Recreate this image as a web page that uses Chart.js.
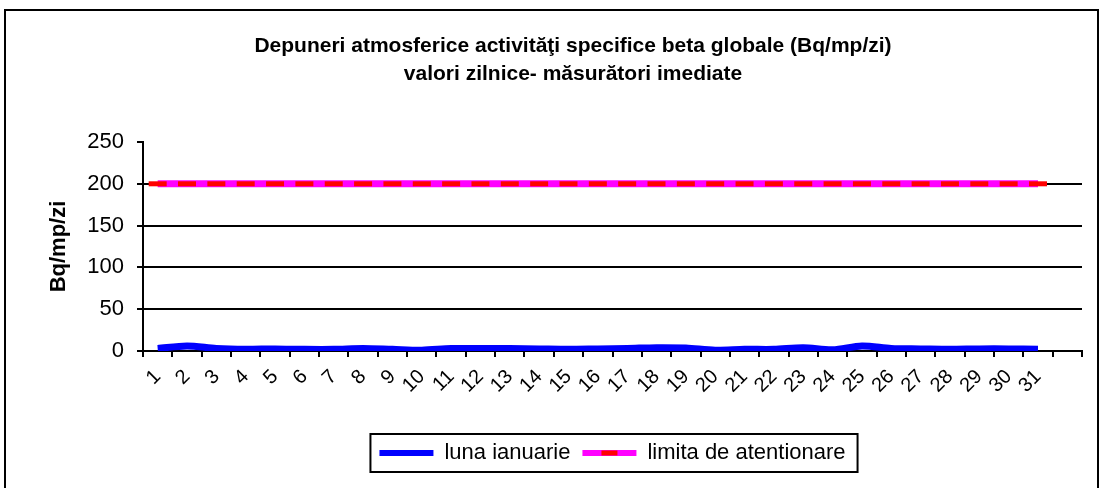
<!DOCTYPE html>
<html>
<head>
<meta charset="utf-8">
<script src="https://cdn.jsdelivr.net/npm/chart.js@4.4.0/dist/chart.umd.min.js"></script>
<style>
    html, body { margin: 0; padding: 0; background: #fff; overflow: hidden; }
    #frame { position: absolute; left: 4px; top: 9px; width: 1091px; height: 500px; border: 2px solid #000; }
    #wrap { position: absolute; left: 0; top: 0; width: 1103px; height: 488px; }
</style>
</head>
<body>
<div id="frame"></div>
<div id="wrap"><canvas id="betaChart" width="1103" height="488"></canvas></div>
<script>
// zilele lunii (ultima categorie goala, ca in original)
var days = ['1', '2', '3', '4', '5', '6', '7', '8', '9', '10', '11', '12', '13', '14', '15', '16',
            '17', '18', '19', '20', '21', '22', '23', '24', '25', '26', '27', '28', '29', '30', '31', ''];
var lunaIanuarie = [3, 6, 3, 2, 2.5, 2, 2, 3, 2, 1, 3, 3, 3, 2.5, 2, 2.5,
                    3, 4, 3.5, 1, 2, 2, 4, 1.5, 6, 3, 2.5, 2, 2.5, 2.5, 2, null];
var limitaAtentionare = [200, 200, 200, 200, 200, 200, 200, 200, 200, 200, 200, 200, 200, 200, 200, 200,
                         200, 200, 200, 200, 200, 200, 200, 200, 200, 200, 200, 200, 200, 200, 200, null];
var yTicks = [0, 50, 100, 150, 200, 250];

var FONT = "'Liberation Sans', Arial, sans-serif";

// chenar legenda + liniuta rosie din mostra limitei
var legendFrame = {
    id: 'legendFrame',
    afterDraw: function (chart) {
        var hb = chart.legend.legendHitBoxes;
        if (!hb || !hb.length) return;
        var ctx = chart.ctx;
        var first = hb[0], last = hb[hb.length - 1];
        var left = first.left - 9, right = last.left + last.width + 12;
        var top = first.top - 8, bottom = first.top + first.height + 8;
        ctx.save();
        ctx.strokeStyle = '#000';
        ctx.lineWidth = 2;
        ctx.strokeRect(left, top, right - left, bottom - top);
        // liniuta rosie in mijlocul mostrei magenta
        var bw = chart.options.plugins.legend.labels.boxWidth;
        var cx = last.left + bw / 2;
        var cy = last.top + last.height / 2;
        ctx.fillStyle = '#FF0000';
        ctx.fillRect(cx - 8, cy - 2.5, 16, 5);
        ctx.restore();
    }
};

// titlul este centrat putin la stanga de zona graficului
var titleShift = {
    id: 'titleShift',
    afterLayout: function (chart) {
        var t = chart.titleBlock;
        if (t) {
            t.left = 64;
            t.width = t.right - t.left;
        }
    }
};

var ctx = document.getElementById('betaChart').getContext('2d');
var betaChart = new Chart(ctx, {
    type: 'line',
    data: {
        labels: days,
        datasets: [{
            label: 'luna ianuarie',
            data: lunaIanuarie,
            borderColor: '#0000FF',
            backgroundColor: '#0000FF',
            borderWidth: 7,
            borderCapStyle: 'butt',
            pointRadius: 0,
            tension: 0.3,
            fill: false
        }, {
            label: 'limita de atentionare',
            data: limitaAtentionare,
            borderColor: '#FF00FF',
            backgroundColor: '#FF00FF',
            borderWidth: 7,
            borderCapStyle: 'butt',
            pointStyle: 'line',
            pointRadius: 9,
            pointBorderColor: '#FF0000',
            pointBackgroundColor: '#FF0000',
            pointBorderWidth: 5,
            fill: false
        }]
    },
    options: {
        responsive: false,
        animation: false,
        layout: {
            padding: { left: 46, right: 21, top: 32, bottom: 14 }
        },
        scales: {
            x: {
                offset: true,
                grid: {
                    display: true,
                    offset: true,
                    drawOnChartArea: false,
                    drawTicks: true,
                    tickLength: 6,
                    color: '#000',
                    lineWidth: 2
                },
                border: { display: true, color: '#000', width: 2 },
                ticks: {
                    autoSkip: false,
                    minRotation: 45,
                    maxRotation: 45,
                    padding: 8,
                    color: '#000',
                    font: { family: FONT, size: 20 }
                },
                afterFit: function (scale) { scale.height = 79; }
            },
            y: {
                min: 0,
                max: 250,
                afterBuildTicks: function (scale) {
                    scale.ticks = yTicks.map(function (v) { return { value: v }; });
                },
                grid: {
                    color: function (c) { return c.tick && c.tick.value === 250 ? 'rgba(0,0,0,0)' : '#000'; },
                    tickColor: '#000',
                    lineWidth: 2,
                    tickLength: 6
                },
                border: { display: true, color: '#000', width: 2 },
                ticks: {
                    padding: 13,
                    color: '#000',
                    font: { family: FONT, size: 22 }
                },
                title: {
                    display: true,
                    text: 'Bq/mp/zi',
                    color: '#000',
                    padding: 0,
                    font: { family: FONT, size: 22, weight: 'bold' }
                },
                afterFit: function (scale) { scale.width = 97; }
            }
        },
        plugins: {
            title: {
                display: true,
                text: ['Depuneri atmosferice activităţi specifice beta globale (Bq/mp/zi)',
                       'valori zilnice- măsurători imediate'],
                color: '#000',
                font: { family: FONT, size: 21, weight: 'bold', lineHeight: '28px' },
                padding: { top: 0, bottom: 54 }
            },
            legend: {
                position: 'bottom',
                fullSize: false,
                labels: {
                    boxWidth: 54,
                    boxHeight: 6,
                    padding: 12,
                    color: '#000',
                    font: { family: FONT, size: 22 },
                    generateLabels: function (chart) {
                        return chart.data.datasets.map(function (ds, i) {
                            return {
                                text: ds.label,
                                fillStyle: ds.borderColor,
                                strokeStyle: ds.borderColor,
                                lineWidth: 0,
                                hidden: false,
                                datasetIndex: i
                            };
                        });
                    }
                }
            },
            tooltip: { enabled: false }
        }
    },
    plugins: [legendFrame, titleShift]
});
</script>
</body>
</html>
